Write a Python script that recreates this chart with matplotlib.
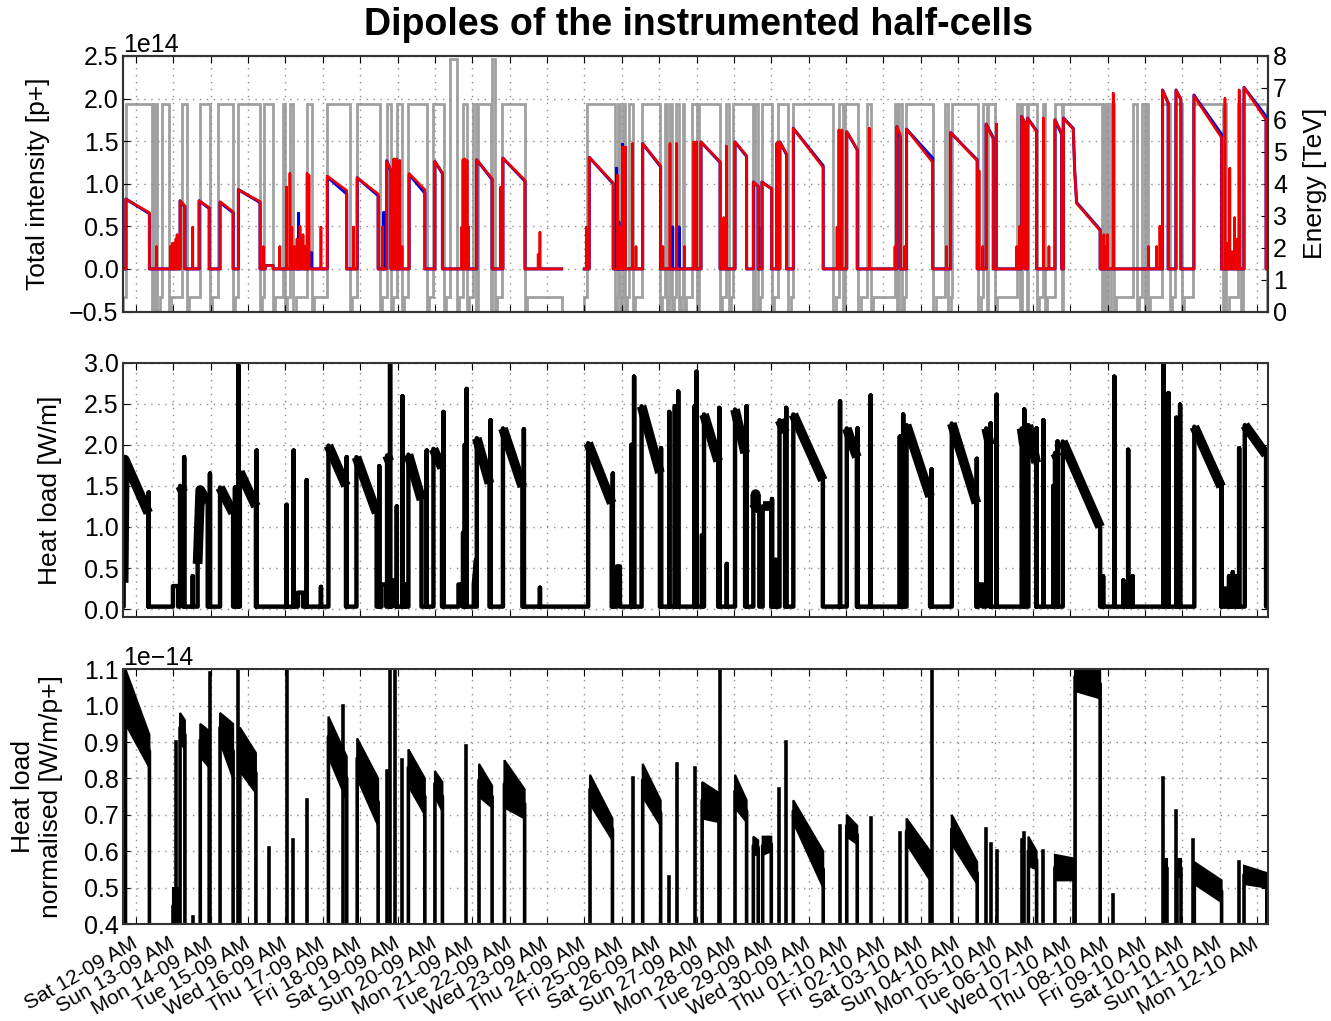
import numpy as np
import matplotlib
matplotlib.use("Agg")
import matplotlib.pyplot as plt

plt.rcParams['font.family'] = ['Liberation Sans', 'DejaVu Sans']

# ---------------- data (time in days from Sat 12-09 00:00) ----------------
day_labels = ["Sat 12-09 AM", "Sun 13-09 AM", "Mon 14-09 AM", "Tue 15-09 AM", "Wed 16-09 AM",
              "Thu 17-09 AM", "Fri 18-09 AM", "Sat 19-09 AM", "Sun 20-09 AM", "Mon 21-09 AM",
              "Tue 22-09 AM", "Wed 23-09 AM", "Thu 24-09 AM", "Fri 25-09 AM", "Sat 26-09 AM",
              "Sun 27-09 AM", "Mon 28-09 AM", "Tue 29-09 AM", "Wed 30-09 AM", "Thu 01-10 AM",
              "Fri 02-10 AM", "Sat 03-10 AM", "Sun 04-10 AM", "Mon 05-10 AM", "Tue 06-10 AM",
              "Wed 07-10 AM", "Thu 08-10 AM", "Fri 09-10 AM", "Sat 10-10 AM", "Sun 11-10 AM",
              "Mon 12-10 AM"]
t_first, t_last = -0.34, 30.30
data_gap = [(11.39, 12.0)]

# beam 2 intensity (red), pieces: t0, v0, t1, v1, ... in 1e14 p
b2_pieces = [
    (-0.27, 0.82, 0.36, 0.66), (1.18, 0.80, 1.31, 0.74), (1.69, 0.80, 1.96, 0.72),
    (2.25, 0.79, 2.60, 0.67), (2.74, 0.93, 3.32, 0.79), (3.46, 0.04, 3.67, 0.04),
    (5.12, 1.09, 5.64, 0.92), (5.92, 1.07, 6.48, 0.88), (6.71, 1.26, 6.82, 1.16),
    (7.31, 1.12, 7.73, 0.93), (8.00, 1.26, 8.20, 1.13), (9.12, 1.28, 9.53, 1.06),
    (9.82, 1.30, 10.41, 1.04), (10.76, 0.17, 10.80, 0.17), (12.13, 1.31, 12.77, 1.01),
    (13.56, 1.47, 14.04, 1.21), (15.12, 1.49, 15.63, 1.26), (16.03, 1.49, 16.34, 1.33),
    (16.52, 1.02, 16.65, 0.97), (16.75, 1.02, 17.01, 0.94), (17.23, 1.49, 17.41, 1.35),
    (17.59, 1.65, 18.39, 1.19), (19.02, 1.61, 19.30, 1.40), (20.36, 1.67, 20.45, 1.58),
    (20.62, 1.64, 21.32, 1.25), (21.80, 1.60, 22.51, 1.27), (22.75, 1.70, 22.94, 1.52),
    (23.70, 1.79, 23.79, 1.72), (23.86, 1.77, 24.10, 1.61), (24.59, 1.75, 24.77, 1.60),
    (24.82, 1.77, 25.08, 1.64, 25.12, 1.15, 25.17, 0.77, 25.80, 0.45),
    (27.47, 2.10, 27.62, 1.94), (27.83, 2.10, 27.96, 1.99), (28.31, 2.03, 29.05, 1.54),
    (29.65, 2.13, 30.24, 1.75)]
b2_spikes = [
    (0.55, 0.26), (0.92, 0.26), (0.95, 0.26), (0.98, 0.30), (1.01, 0.26), (1.04, 0.30),
    (1.07, 0.35), (1.10, 0.40), (1.52, 0.49), (3.41, 0.26), (3.85, 0.26), (4.03, 0.96),
    (4.12, 1.12), (4.17, 0.49), (4.24, 0.26), (4.31, 0.35), (4.39, 0.50), (4.47, 0.40),
    (4.52, 0.26), (4.58, 1.12), (4.63, 1.10), (4.95, 0.49), (5.82, 0.49), (6.60, 0.49),
    (6.90, 1.29), (6.95, 0.26), (6.97, 1.29), (7.06, 1.27), (7.12, 0.26), (8.72, 0.49),
    (8.75, 1.28), (8.80, 1.29), (8.86, 1.27), (8.90, 0.49), (9.76, 0.96), (10.81, 0.43),
    (12.05, 0.49), (12.88, 1.10), (12.93, 0.50), (13.02, 1.43), (13.10, 1.43), (13.29, 1.47),
    (13.38, 0.26), (14.10, 0.26), (14.29, 1.47), (14.47, 1.47), (14.68, 0.26), (14.93, 1.49),
    (15.00, 1.49), (15.73, 0.60), (15.80, 1.44), (17.14, 1.47), (17.18, 1.49), (18.76, 0.49),
    (18.81, 1.63), (18.89, 1.63), (19.62, 1.65), (20.31, 0.26), (20.57, 0.26), (21.69, 0.26),
    (22.56, 1.15), (22.66, 0.26), (23.03, 1.70), (23.57, 0.26), (23.65, 0.50), (24.28, 1.77),
    (24.43, 0.26), (25.90, 0.40), (25.95, 0.26), (26.00, 0.40), (26.15, 2.06), (27.09, 0.26),
    (27.31, 0.26), (27.40, 0.50), (29.14, 2.00), (29.20, 0.30), (29.27, 1.18), (29.33, 0.20),
    (29.40, 0.60), (29.45, 0.35), (29.52, 2.10), (30.27, 0.26)]

# beam 1 intensity (blue), 1e14 p
b1_pieces = [
    (-0.27, 0.82, 0.36, 0.65), (1.18, 0.80, 1.31, 0.73), (1.69, 0.80, 1.96, 0.71),
    (2.25, 0.78, 2.60, 0.66), (2.74, 0.93, 3.32, 0.78), (3.46, 0.04, 3.67, 0.04),
    (4.62, 0.19, 4.70, 0.19), (5.12, 1.08, 5.64, 0.88), (5.92, 1.07, 6.48, 0.86),
    (6.71, 1.27, 6.82, 1.15), (7.31, 1.11, 7.73, 0.89), (8.00, 1.26, 8.20, 1.12),
    (9.12, 1.28, 9.53, 1.05), (9.82, 1.30, 10.41, 1.03), (12.13, 1.31, 12.77, 1.00),
    (13.56, 1.47, 14.04, 1.20), (15.12, 1.49, 15.63, 1.25), (16.03, 1.49, 16.34, 1.32),
    (16.52, 1.02, 16.65, 0.97), (16.75, 1.02, 17.01, 0.94), (17.23, 1.49, 17.41, 1.34),
    (17.59, 1.65, 18.39, 1.21), (19.02, 1.61, 19.30, 1.40), (20.36, 1.67, 20.45, 1.55),
    (20.62, 1.64, 21.32, 1.30), (21.80, 1.60, 22.51, 1.28), (22.75, 1.70, 22.94, 1.54),
    (23.70, 1.79, 23.79, 1.70), (23.86, 1.77, 24.10, 1.62), (24.59, 1.75, 24.77, 1.58),
    (24.82, 1.77, 25.08, 1.65, 25.12, 1.15, 25.17, 0.78, 25.80, 0.46),
    (27.47, 2.10, 27.62, 1.95), (27.83, 2.10, 27.96, 1.99), (28.31, 2.04, 29.05, 1.58),
    (29.65, 2.13, 30.24, 1.79)]
b1_spikes = [(4.35, 0.65), (6.63, 0.66), (12.86, 1.18), (12.92, 0.55), (13.02, 1.46),
             (14.36, 0.49), (14.53, 0.49), (16.66, 0.49)]

# beam energy: flat-top intervals at 6.5 TeV, and two higher ramps
e_flat = [
    (-0.27, 0.42), (0.46, 0.49), (0.54, 0.57), (0.69, 0.88), (1.22, 1.36), (1.71, 1.98),
    (2.20, 2.60), (2.74, 3.32), (3.43, 3.67), (3.94, 3.99), (4.12, 4.21), (4.57, 4.70),
    (5.10, 5.73), (5.91, 6.53), (6.71, 6.82), (6.98, 7.11), (7.29, 7.78), (7.96, 8.24),
    (8.76, 8.85), (9.01, 9.10), (9.16, 9.49), (9.79, 10.41), (12.08, 12.82), (12.89, 12.95),
    (13.02, 13.08), (13.18, 13.30), (13.53, 14.02), (14.16, 14.20), (14.29, 14.35),
    (14.45, 14.52), (14.63, 14.67), (14.87, 15.00), (15.07, 15.63), (15.78, 15.87),
    (15.98, 16.52), (16.56, 16.65), (16.74, 17.01), (17.19, 17.46), (17.57, 18.66),
    (18.82, 18.93), (18.97, 19.33), (19.55, 19.66), (20.31, 20.37), (20.43, 20.49),
    (20.60, 21.34), (21.65, 21.74), (21.83, 22.54), (22.67, 22.76), (22.81, 22.99),
    (23.57, 23.65), (23.70, 23.83), (23.88, 24.10), (24.28, 24.32), (24.59, 24.77),
    (24.81, 25.84), (25.88, 25.92), (25.98, 26.02), (26.10, 26.16), (26.69, 26.78),
    (26.91, 27.00), (27.05, 27.08), (27.45, 27.67), (27.80, 27.98), (28.29, 29.10),
    (29.14, 29.18), (29.50, 29.56), (29.63, 30.26)]
e_high = [(8.40, 8.58), (9.52, 9.61)]
e_levels = {"injection": 0.45, "flat_top": 6.5, "high": 7.9}

# heat load [W/m]
hl_base = 0.03
hl_pieces = [
    (-0.33, 0.32, -0.30, 1.82, 0.33, 1.17), (0.99, 0.28, 1.13, 0.28), (1.18, 1.50, 1.27, 1.42),
    (1.65, 0.55, 1.72, 1.45, 1.92, 1.30), (2.25, 1.48, 2.60, 1.17), (2.78, 1.67, 3.21, 1.25),
    (4.33, 0.20, 4.47, 0.20), (5.15, 1.99, 5.62, 1.50), (5.90, 1.85, 6.44, 1.17),
    (6.57, 0.30, 6.70, 0.30), (6.72, 1.87, 6.78, 1.80), (6.85, 0.35, 6.96, 0.35),
    (7.29, 1.88, 7.64, 1.33), (7.96, 1.95, 8.19, 1.72), (8.63, 0.30, 8.74, 0.30),
    (8.75, 0.93, 8.79, 0.93), (9.04, 0.30, 9.10, 0.60), (9.12, 2.08, 9.46, 1.53),
    (9.82, 2.20, 10.34, 1.49), (12.10, 2.02, 12.73, 1.29), (12.87, 0.52, 12.95, 0.52),
    (13.53, 2.47, 14.02, 1.66), (15.14, 0.90, 15.18, 0.90), (15.20, 2.37, 15.58, 1.80),
    (16.03, 2.43, 16.30, 1.90), (16.52, 1.21, 16.57, 1.24, 16.58, 1.40, 16.59, 1.24, 16.68, 1.22),
    (16.77, 1.25, 17.00, 1.25), (17.22, 2.30, 17.37, 2.15), (17.59, 2.37, 18.38, 1.57),
    (19.02, 2.20, 19.29, 1.85), (20.62, 2.24, 21.25, 1.37), (21.83, 2.26, 22.49, 1.29),
    (22.55, 0.30, 22.66, 0.30), (22.75, 2.20, 22.85, 2.00), (23.70, 2.20, 23.76, 2.00),
    (23.88, 2.24, 24.09, 1.78), (24.59, 1.90, 24.65, 1.85), (24.80, 2.04, 25.80, 1.00),
    (28.32, 2.22, 29.04, 1.49), (29.10, 0.25, 29.16, 0.25), (29.67, 2.24, 30.24, 1.88)]
hl_spikes = [
    (0.34, 1.42), (1.29, 1.85), (1.52, 0.40), (1.98, 1.65), (2.65, 1.48), (2.74, 2.97),
    (3.23, 1.93), (4.03, 1.27), (4.22, 1.93), (4.57, 1.57), (4.95, 0.27), (5.64, 1.85),
    (6.51, 1.74), (6.80, 3.10), (6.98, 1.25), (7.13, 2.59), (7.20, 0.30), (7.78, 1.93),
    (8.23, 2.40), (8.80, 2.00), (8.85, 2.68), (9.49, 2.30), (10.38, 2.19), (10.81, 0.26),
    (12.76, 1.65), (13.26, 2.00), (13.33, 2.83), (14.05, 1.96), (14.27, 2.40), (14.42, 2.47),
    (14.51, 2.65), (14.95, 2.47), (15.00, 2.89), (15.61, 2.45), (15.81, 0.55), (16.34, 2.47),
    (17.02, 1.34), (17.12, 0.60), (17.40, 2.45), (18.84, 2.53), (19.31, 2.20), (19.66, 2.60),
    (20.44, 2.10), (20.53, 2.37), (21.29, 1.70), (22.50, 1.83), (22.87, 2.26), (23.03, 2.61),
    (23.77, 2.43), (24.10, 2.20), (24.28, 2.30), (24.55, 1.50), (24.66, 2.04), (25.88, 0.40),
    (26.18, 2.83), (26.42, 0.35), (26.55, 1.94), (26.67, 0.40), (27.49, 3.10), (27.63, 2.63),
    (27.84, 2.33), (27.94, 2.49), (29.05, 1.55), (29.25, 0.40), (29.35, 0.45), (29.45, 0.40),
    (29.52, 1.96)]

# normalised heat load [1e-14 W/m/p+]: t0, t1, low0, high0, low1, high1
nrm_pieces = [
    (-0.28, 0.36, 0.95, 1.10, 0.83, 0.92), (0.99, 1.13, 0.40, 0.50, 0.40, 0.50),
    (1.18, 1.31, 0.90, 0.98, 0.88, 0.96), (1.72, 1.96, 0.86, 0.95, 0.83, 0.93),
    (2.25, 2.60, 0.90, 0.98, 0.80, 0.95), (2.78, 3.21, 0.82, 0.94, 0.76, 0.87),
    (5.15, 5.64, 0.86, 0.97, 0.74, 0.86), (5.92, 6.48, 0.80, 0.91, 0.67, 0.80),
    (7.29, 7.73, 0.78, 0.88, 0.70, 0.80), (8.00, 8.20, 0.75, 0.82, 0.71, 0.79),
    (9.18, 9.53, 0.75, 0.84, 0.72, 0.78), (9.86, 10.40, 0.72, 0.85, 0.69, 0.77),
    (12.15, 12.75, 0.73, 0.81, 0.63, 0.69), (13.56, 14.04, 0.75, 0.84, 0.67, 0.74),
    (15.15, 15.60, 0.69, 0.79, 0.68, 0.76), (16.03, 16.34, 0.72, 0.81, 0.68, 0.74),
    (16.52, 16.65, 0.59, 0.64, 0.59, 0.63), (16.77, 17.00, 0.59, 0.64, 0.60, 0.64),
    (17.59, 18.39, 0.68, 0.74, 0.50, 0.60), (19.02, 19.30, 0.64, 0.70, 0.62, 0.67),
    (20.62, 21.25, 0.62, 0.69, 0.52, 0.60), (21.83, 22.51, 0.62, 0.70, 0.51, 0.57),
    (23.88, 24.10, 0.56, 0.64, 0.55, 0.60), (24.59, 25.10, 0.52, 0.59, 0.52, 0.58),
    (25.13, 25.80, 1.04, 1.12, 1.02, 1.10), (27.50, 27.60, 0.53, 0.58, 0.53, 0.58),
    (27.86, 27.96, 0.53, 0.58, 0.53, 0.58), (28.32, 29.05, 0.51, 0.57, 0.46, 0.52),
    (29.65, 30.26, 0.51, 0.56, 0.50, 0.54)]
nrm_spikes = [
    (-0.31, 1.12), (1.08, 0.90), (1.52, 0.42), (1.97, 1.09), (2.74, 1.15), (3.55, 0.61),
    (4.05, 1.15), (4.21, 0.63), (4.57, 0.74), (5.55, 1.00), (6.71, 0.82), (6.80, 1.15),
    (6.93, 1.15), (7.11, 0.85), (8.83, 0.89), (13.29, 0.80), (14.27, 0.53), (14.47, 0.84),
    (14.95, 0.83), (15.63, 1.15), (17.22, 0.77), (17.40, 0.90), (18.84, 0.67), (19.66, 0.69),
    (20.44, 0.65), (21.29, 1.15), (22.75, 0.66), (22.87, 0.62), (23.03, 0.60), (23.70, 0.63),
    (23.77, 0.65), (24.28, 0.60), (26.15, 0.48), (27.47, 0.80), (27.83, 0.71), (28.29, 0.63),
    (29.52, 0.57)]


# ---------------- helpers ----------------
def build_trace(pieces, spikes, base, t0, t1, gaps=()):
    items = [np.asarray(p, float).reshape(-1, 2) for p in pieces]
    items += [np.array([[t, v]], float) for t, v in spikes]
    items.sort(key=lambda a: a[0, 0])
    gl = sorted(gaps)
    T, V = [t0], [base]
    for a in items:
        while gl and a[0, 0] > gl[0][0]:
            g = gl.pop(0)
            T += [g[0], np.nan, g[1]]
            V += [base, np.nan, base]
        T += [a[0, 0]] + list(a[:, 0]) + [a[-1, 0]]
        V += [base] + list(a[:, 1]) + [base]
    T.append(t1)
    V.append(base)
    return np.array(T), np.array(V)


def build_energy(flat, high, t0, t1, lev, gaps=(), precycle=0.06):
    items = [(a, b, lev["flat_top"]) for a, b in flat] + [(a, b, lev["high"]) for a, b in high]
    items.sort()
    inj = lev["injection"]
    T, V = [t0, t0], [0.0, inj]
    for i, (a, b, L) in enumerate(items):
        nxt = items[i + 1][0] if i + 1 < len(items) else t1
        T += [a, a, b, b]
        V += [inj, L, L, 0.0]
        c = min(b + precycle, nxt)
        gap = [g for g in gaps if b < g[0] < nxt]
        if gap:
            g = gap[0]
            T += [c, c, g[0], g[0], np.nan, g[1], g[1]]
            V += [0.0, inj, inj, 0.0, np.nan, 0.0, inj]
        else:
            T += [c, c]
            V += [0.0, inj]
    T.append(t1)
    V.append(inj)
    return np.array(T), np.array(V)


# ---------------- figure ----------------
fig = plt.figure(figsize=(13.31, 10.21), dpi=100)
L, R = 0.0926, 0.9529
ax1 = fig.add_axes([L, 0.6949, R - L, 0.9452 - 0.6949])
ax2 = fig.add_axes([L, 0.3954, R - L, 0.6448 - 0.3954])
ax3 = fig.add_axes([L, 0.0950, R - L, 0.3445 - 0.0950])
axE = ax1.twinx()

TICK = 18
grid_kw = dict(color='#8c8c8c', linestyle=(0, (1, 4)), linewidth=1.0)

# energy (gray)
tE, vE = build_energy(e_flat, e_high, t_first, t_last, e_levels, data_gap)
axE.plot(tE, vE, color='#8f8f8f', lw=2.0, alpha=0.85, solid_joinstyle='miter')
axE.set_ylim(0, 8)
axE.set_yticks(range(0, 9))
axE.set_ylabel('Energy [TeV]', fontsize=19)
axE.yaxis.set_label_coords(1.030, 0.5)
axE.tick_params(direction='in', length=5, labelsize=TICK)

# intensities
t1b, v1b = build_trace(b1_pieces, b1_spikes, 0.0, t_first, t_last, data_gap)
t2b, v2b = build_trace(b2_pieces, b2_spikes, 0.0, t_first, t_last, data_gap)
ax1.plot(t1b, v1b * 1e14, color='#0000e0', lw=2.2)
ax1.plot(t2b, v2b * 1e14, color='#ee0000', lw=1.9)
ax1.set_ylim(-0.5e14, 2.5e14)
ax1.set_yticks(np.arange(-0.5, 2.51, 0.5) * 1e14)
ax1.set_ylabel('Total intensity [p+]', fontsize=19)
ax1.yaxis.set_label_coords(-0.064, 0.5)
ax1.set_zorder(axE.get_zorder() + 1)
ax1.patch.set_visible(False)

# heat load
th, vh = build_trace(hl_pieces, hl_spikes, hl_base, t_first, t_last)
ax2.plot(th, vh, color='black', lw=3.2)
for p in hl_pieces:
    a = np.asarray(p, float).reshape(-1, 2)
    if a[:, 1].max() > 0.9:
        ax2.plot(a[:, 0], a[:, 1], color='black', lw=7, solid_capstyle='butt')
ax2.set_ylim(-0.1, 3.0)
ax2.set_yticks(np.arange(0, 3.01, 0.5))
ax2.set_ylabel('Heat load [W/m]', fontsize=19)
ax2.yaxis.set_label_coords(-0.0535, 0.5)

# normalised heat load
low_end = 0.3
for t0, t1, l0, h0, l1, h1 in nrm_pieces:
    ax3.fill([t0, t1, t1, t0], np.array([l0, l1, h1, h0]) * 1e-14, color='black',
             lw=1.5, zorder=2.5)
    m0, m1 = (l0 + h0) / 2, (l1 + h1) / 2
    ax3.plot([t0, t0, t1, t1], np.array([low_end, m0, m1, low_end]) * 1e-14,
             color='black', lw=2.6)
for t, v in nrm_spikes:
    ax3.plot([t, t], np.array([low_end, v]) * 1e-14, color='black', lw=2.6)
ax3.set_ylim(0.4e-14, 1.1e-14)
ax3.set_yticks(np.arange(0.4, 1.101, 0.1) * 1e-14)
ax3.set_ylabel('Heat load\nnormalised [W/m/p+]', fontsize=19)
ax3.yaxis.set_label_coords(-0.0527, 0.5)

for ax in (ax1, ax2, ax3):
    ax.set_xlim(t_first, t_last)
    ax.set_xticks(range(len(day_labels)))
    ax.grid(True, **grid_kw)
    ax.tick_params(direction='in', length=5, labelsize=TICK, top=True,
                   right=(ax is not ax1))
    ax.yaxis.get_offset_text().set_fontsize(TICK)
    for s in ax.spines.values():
        s.set_color('#333333')
        s.set_linewidth(1.5)
for s in axE.spines.values():
    s.set_color('#333333')
    s.set_linewidth(1.5)

ax1.set_xticklabels([])
ax2.set_xticklabels([])
ax3.set_xticklabels(day_labels, rotation=30, ha='right', va='center',
                    rotation_mode='anchor', fontsize=15)
ax3.tick_params(axis='x', pad=13)

fig.text(0.525, 0.9755, 'Dipoles of the instrumented half-cells', ha='center', va='center',
         fontsize=27, fontweight='bold')

fig.savefig('out.png', dpi=100)
